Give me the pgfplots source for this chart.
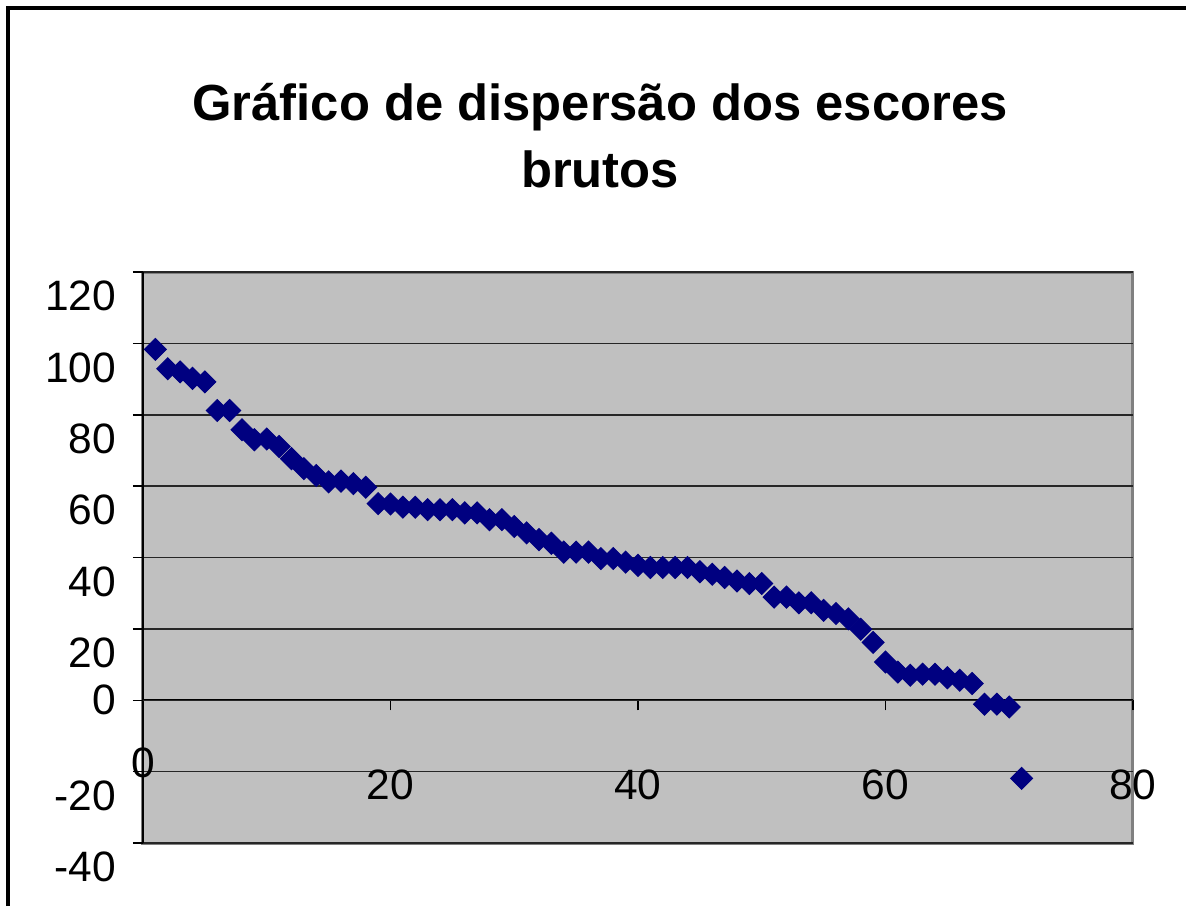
\documentclass[border=0pt]{standalone}
\usepackage{pgfplots}
\pgfplotsset{compat=1.18}
\usepackage{fontspec}
\setmainfont{Liberation Sans}
\definecolor{bggray}{RGB}{192,192,192}
\definecolor{bordergray}{RGB}{128,128,128}
\definecolor{navy}{RGB}{0,0,128}
\begin{document}
\begin{tikzpicture}
\useasboundingbox (0,0) rectangle (474.4pt,362.4pt);
\draw[line width=1.6pt] (3.2pt,0) -- (3.2pt,359.2pt) -- (474.4pt,359.2pt);
\begin{axis}[
  at={(57.2pt,25.2pt)}, anchor=south west,
  scale only axis, width=396pt, height=228.4pt,
  xmin=0, xmax=80, ymin=-40, ymax=120,
  axis x line=middle, axis y line=left,
  axis line style={-, black, line width=0.8pt},
  axis background/.style={fill=bggray, draw=bordergray, line width=1.2pt},
  xtick={20,40,60,80},
  extra x ticks={0},
  extra x tick style={xticklabel style={yshift=8.8pt}},
  ytick={-40,-20,20,40,60,80,100,120},
  extra y ticks={0},
  extra y tick style={yticklabel style={yshift=9.6pt}},
  ymajorgrids=true,
  grid style={black!85, line width=0.6pt},
  tick align=outside,
  major tick length=4pt,
  tick style={black, line width=0.6pt},
  /pgf/number format/assume math mode=true,
  tick label style={font=\fontsize{17}{20}\selectfont},
  xticklabel style={anchor=center, yshift=-30pt},
  yticklabel style={anchor=east, yshift=-9.6pt, xshift=-3.2pt},
  title={Gráfico de dispersão dos escores\\brutos},
  title style={at={(0.4616,1.213)}, anchor=center, align=center,
    font=\bfseries\fontsize{20.3}{26.8}\selectfont},
  clip=false,
]
\addplot[only marks, mark=square*, mark size=3.1pt,
  mark options={rotate=45, fill=navy, draw=navy}] coordinates {
(1,98.3) (2,92.9) (3,92.0) (4,90.2) (5,89.2) (6,81.2) (7,81.2) (8,75.8)
(9,73.0) (10,73.2) (11,71.1) (12,67.7) (13,64.9) (14,63.0) (15,61.2)
(16,61.4) (17,60.7) (18,59.7) (19,55.1) (20,55.0) (21,54.1) (22,54.1)
(23,53.4) (24,53.4) (25,53.4) (26,52.5) (27,52.5) (28,50.6) (29,50.6)
(30,48.7) (31,46.9) (32,45.0) (33,44.0) (34,41.5) (35,41.5) (36,41.5)
(37,39.7) (38,39.7) (39,38.7) (40,37.8) (41,37.2) (42,37.2) (43,37.2)
(44,37.2) (45,36.0) (46,35.3) (47,34.4) (48,33.4) (49,32.7) (50,32.7)
(51,28.9) (52,28.9) (53,27.3) (54,27.3) (55,25.2) (56,24.3) (57,22.8)
(58,19.9) (59,16.2) (60,10.7) (61,7.9) (62,7.0) (63,7.3) (64,7.3)
(65,6.3) (66,5.6) (67,4.7) (68,-1.1) (69,-1.1) (70,-1.9) (71,-21.9)
};
\end{axis}
\end{tikzpicture}
\end{document}
